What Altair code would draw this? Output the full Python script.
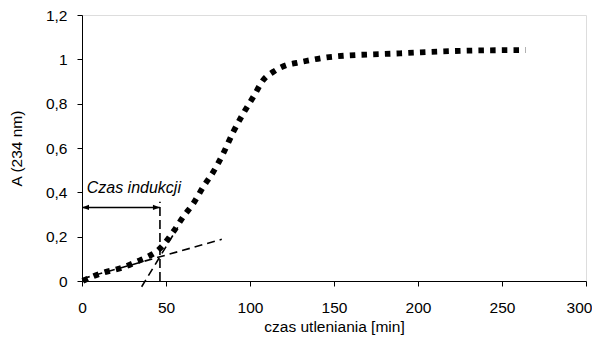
import altair as alt
import pandas as pd

# main curve (oxidation time [min], absorbance at 234 nm)
t_curve = [0.5, 3.8, 11.7, 24.6, 32.6, 38.5, 45, 54.3, 60.3, 66.3, 72.2, 78.2, 84.1, 90.1, 96, 102, 107.9, 113.9, 121.8, 127.8, 149.4, 189.3, 229, 264]
a_curve = [0.0, 0.012, 0.035, 0.062, 0.087, 0.107, 0.137, 0.222, 0.29, 0.35, 0.425, 0.493, 0.576, 0.673, 0.756, 0.831, 0.907, 0.944, 0.974, 0.984, 1.012, 1.027, 1.039, 1.042]

# tangent lines
t_low = [0, 83.2]
a_low = [0.01, 0.188]
t_steep = [35.5, 57]
a_steep = [-0.026, 0.242]

# induction time marker
t_ind = 46.4
a_vert_top = 0.358
a_arrow = 0.332
label_text = "Czas indukcji"
label_t = 2.8
label_a = 0.395

x_ticks = [0, 50, 100, 150, 200, 250, 300]
y_ticks = [0, 0.2, 0.4, 0.6, 0.8, 1.0, 1.2]

FONT = "Liberation Sans"
FS = 15.5

xs = alt.Scale(domain=[0, 300], nice=False, zero=False)
ys = alt.Scale(domain=[0, 1.2], nice=False, zero=False)

x_axis = alt.Axis(values=x_ticks, title="czas utleniania [min]", grid=False,
                  domainColor="black", tickColor="black", tickSize=5,
                  labelFont=FONT, labelFontSize=FS, labelColor="black",
                  labelOffset=alt.condition("datum.value == 300", alt.value(-7), alt.value(0)),
                  titleFont=FONT, titleFontSize=FS, titleFontWeight="normal",
                  titleColor="black", labelPadding=14, titlePadding=4, labelFlush=False)
y_axis = alt.Axis(values=y_ticks, title="A (234 nm)", grid=False,
                  domainColor="black", tickColor="black", tickSize=5,
                  labelFont=FONT, labelFontSize=FS, labelColor="black",
                  labelExpr="replace(format(datum.value, '~g'), '.', ',')",
                  titleFont=FONT, titleFontSize=FS, titleFontWeight="normal",
                  titleColor="black", labelPadding=10, titlePadding=21, labelFlush=False)

curve_df = pd.DataFrame({"t": t_curve, "a": a_curve})
low_df = pd.DataFrame({"t": t_low, "a": a_low})
steep_df = pd.DataFrame({"t": t_steep, "a": a_steep})

low = alt.Chart(low_df).mark_line(color="black", strokeWidth=1.6, strokeDash=[8, 5]).encode(
    x=alt.X("t:Q", scale=xs, axis=x_axis), y=alt.Y("a:Q", scale=ys, axis=y_axis))
steep = alt.Chart(steep_df).mark_line(color="black", strokeWidth=1.6, strokeDash=[8, 5], clip=False).encode(
    x=alt.X("t:Q", scale=xs), y=alt.Y("a:Q", scale=ys))

curve = alt.Chart(curve_df).mark_line(color="black", strokeWidth=5.8, strokeDash=[5.5, 6.2],
                                      strokeCap="butt", interpolate="monotone").encode(
    x=alt.X("t:Q", scale=xs), y=alt.Y("a:Q", scale=ys))

vert_df = pd.DataFrame({"t": [t_ind], "a0": [0.0], "a1": [a_vert_top]})
vert = alt.Chart(vert_df).mark_rule(color="black", strokeWidth=1.6, strokeDash=[9, 4]).encode(
    x=alt.X("t:Q", scale=xs), y=alt.Y("a0:Q", scale=ys), y2="a1:Q")

arrow_df = pd.DataFrame({"t0": [0.0], "t1": [t_ind], "a": [a_arrow]})
arrow = alt.Chart(arrow_df).mark_rule(color="black", strokeWidth=1.5).encode(
    x=alt.X("t0:Q", scale=xs), x2="t1:Q", y=alt.Y("a:Q", scale=ys))

head_l_df = pd.DataFrame({"t": [0.0], "a": [a_arrow]})
head_r_df = pd.DataFrame({"t": [t_ind], "a": [a_arrow]})
head_l = alt.Chart(head_l_df).mark_point(shape="M 0 0 L 1 -0.38 L 1 0.38 Z", size=196,
                                         filled=True, color="black", opacity=1).encode(
    x=alt.X("t:Q", scale=xs), y=alt.Y("a:Q", scale=ys))
head_r = alt.Chart(head_r_df).mark_point(shape="M 0 0 L -1 -0.38 L -1 0.38 Z", size=196,
                                         filled=True, color="black", opacity=1).encode(
    x=alt.X("t:Q", scale=xs), y=alt.Y("a:Q", scale=ys))

txt_df = pd.DataFrame({"t": [label_t], "a": [label_a], "label": [label_text]})
txt = alt.Chart(txt_df).mark_text(font=FONT, fontSize=16, fontStyle="italic", align="left",
                                  baseline="alphabetic", color="black").encode(
    x=alt.X("t:Q", scale=xs), y=alt.Y("a:Q", scale=ys), text="label:N")

chart = alt.layer(low, steep, vert, arrow, head_l, head_r, txt, curve).properties(
    width=504, height=266,
    autosize=alt.AutoSizeParams(type="none"),
    padding={"left": 74, "top": 7, "right": 6, "bottom": 58},
).configure_view(stroke=None).configure(background="white")

chart.save("out.html", embed_options={"renderer": "svg", "actions": False})
